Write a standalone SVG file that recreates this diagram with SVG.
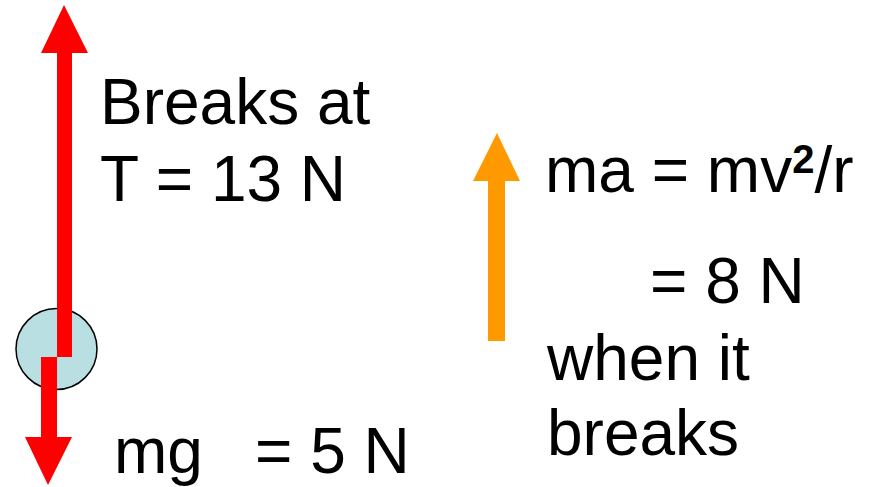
<svg xmlns="http://www.w3.org/2000/svg" width="874" height="487" viewBox="0 0 874 487">
  <style>
    .t { font-family: "Liberation Sans", Arial, sans-serif; font-size: 64px; fill: #000; }
    .sup { font-size: 40px; font-weight: bold; }
    .red { fill: #FF0000; }
    .orange { fill: #FF9900; }
  </style>
  <rect width="874" height="487" fill="#FFFFFF"/>
  <g id="ball">
    <circle cx="56.5" cy="349" r="40.5" fill="#B9DFE3" stroke="#000" stroke-width="1.5"/>
  </g>
  <g id="connectors">
    <polygon class="red" points="64,5 88,53 72,53 72,357 57,357 57,53 41,53"/>
    <polygon class="red" points="41,357 57,357 57,437 72,437 48,485 25,437 41,437"/>
    <polygon class="orange" points="497,133 520,181 505,181 505,341 488,341 488,181 473,181"/>
  </g>
  <g id="tension-label">
    <text class="t" x="100" y="124">Breaks at</text>
    <text class="t" x="100" y="201">T = 13 N</text>
  </g>
  <g id="weight-label">
    <text class="t" x="114" y="473">mg</text>
    <text class="t" x="255" y="473">= 5 N</text>
  </g>
  <g id="centripetal-label">
    <text class="t" x="545" y="192">ma = mv<tspan class="sup" dy="-19">2</tspan><tspan dy="19">/r</tspan></text>
    <text class="t" x="650" y="303">= 8 N</text>
    <text class="t" x="547" y="380">when it</text>
    <text class="t" x="547" y="455">breaks</text>
  </g>
</svg>
